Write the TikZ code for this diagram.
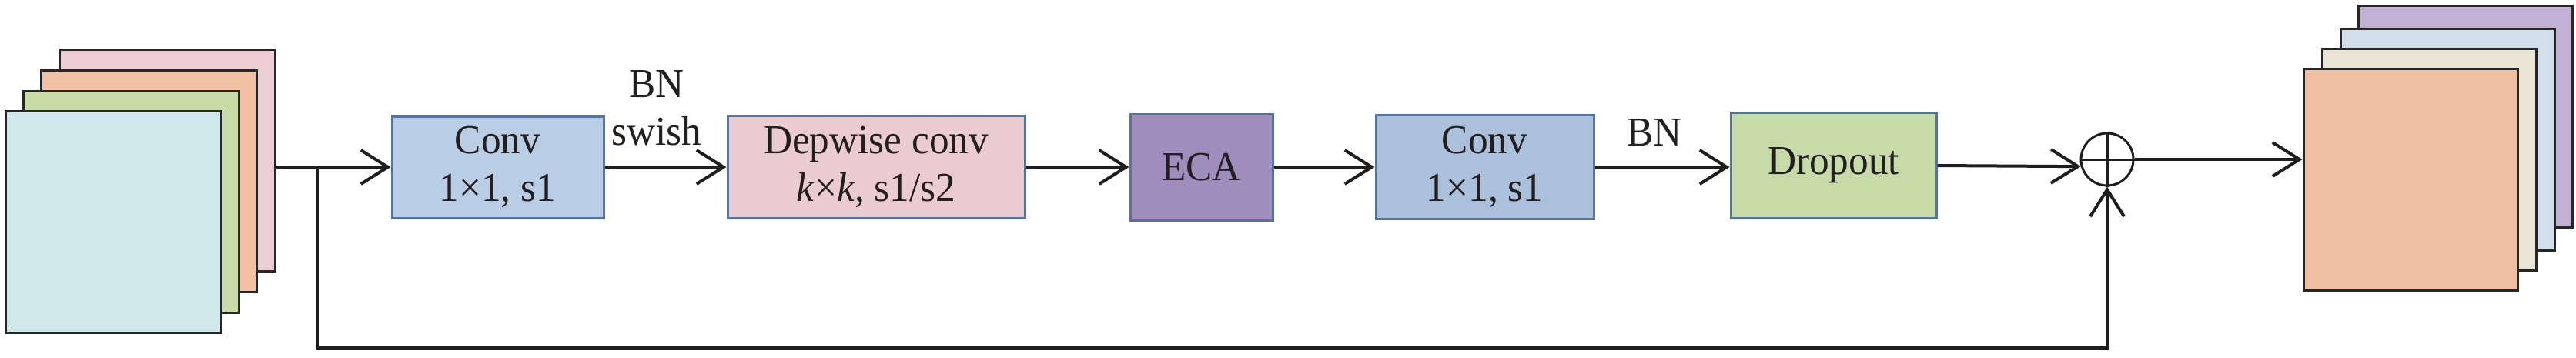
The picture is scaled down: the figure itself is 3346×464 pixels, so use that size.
\documentclass[tikz,border=0pt]{standalone}
\usepackage{fontspec}
\setmainfont{Liberation Serif}[FakeStretch=0.96]
\usetikzlibrary{arrows.meta}
\definecolor{txt}{HTML}{231F20}
\definecolor{lin}{HTML}{1E1E1E}
\definecolor{bord}{HTML}{5473A0}
\definecolor{lay}{HTML}{262626}
\definecolor{cLB}{HTML}{D0E8EC}
\definecolor{cLG}{HTML}{C8DCA8}
\definecolor{cLO}{HTML}{F2C0A2}
\definecolor{cLP}{HTML}{ECCDD3}
\definecolor{cRO}{HTML}{F1BFA2}
\definecolor{cRC}{HTML}{E9E5D5}
\definecolor{cRB}{HTML}{D3DFEB}
\definecolor{cRP}{HTML}{C2B1D4}
\definecolor{cConvA}{HTML}{B9CDE5}
\definecolor{cDw}{HTML}{EACBD1}
\definecolor{cEca}{HTML}{A18DBD}
\definecolor{cConvB}{HTML}{ABC0DA}
\definecolor{cDrop}{HTML}{C7DBA8}
\begin{document}
\begin{tikzpicture}[x=0.1mm,y=-0.1mm,
  lbl/.style={font=\fontsize{15.2pt}{17.5pt}\selectfont, text=txt, inner sep=0pt},
  blk/.style={draw=bord, line width=0.3mm, align=center, font=\fontsize{15.2pt}{17.5pt}\selectfont, text=txt, inner sep=0pt},
  layer/.style={draw=lay, line width=0.3mm, minimum width=28mm, minimum height=28.8mm, inner sep=0pt},
  arr/.style={line width=0.4mm, draw=lin, -{Straight Barb[length=3.5mm,width=4.4mm]}},
  ln/.style={line width=0.4mm, draw=lin},
  thinln/.style={line width=0.3mm, draw=lin},
]
\useasboundingbox (0,0) rectangle (3346,464);

% input stack
\node[layer, fill=cLP] (inP) at (217,208) {};
\node[layer, fill=cLO] (inO) at (193,235) {};
\node[layer, fill=cLG] (inG) at (170,262) {};
\node[layer, fill=cLB] (inB) at (147,288) {};

% output stack
\node[layer, fill=cRP, minimum width=27.8mm] (outP) at (3202,151) {};
\node[layer, fill=cRB, minimum width=27.8mm] (outB) at (3179,181) {};
\node[layer, fill=cRC, minimum width=27.8mm] (outC) at (3155,207) {};
\node[layer, fill=cRO, minimum width=27.8mm] (outF) at (3131,233) {};

% blocks
\node[blk, fill=cConvA, minimum width=27.5mm, minimum height=13.2mm] (c1) at (646.5,217) {Conv\\1×1, s1};
\node[blk, fill=cDw, minimum width=38.6mm, minimum height=13.3mm] (dw) at (1138,217) {Depwise conv\\\textit{k}×\textit{k}, s1/s2};
\node[blk, fill=cEca, minimum width=18.5mm, minimum height=13.8mm] (eca) at (1560.5,217) {ECA};
\node[blk, fill=cConvB, minimum width=28.3mm, minimum height=13.5mm] (c2) at (1928.5,217) {Conv\\1×1, s1};
\node[blk, fill=cDrop, minimum width=26.7mm, minimum height=13.7mm] (drop) at (2381.5,215) {Dropout};

% labels
\node[lbl, anchor=base] (bnA) at (853,126) {BN};
\node[lbl, anchor=base] (sw) at (853,188) {swish};
\node[lbl, anchor=base] (bnB) at (2149,189) {BN};

% adder
\node[circle, draw=lin, line width=0.3mm, minimum size=6.8mm, inner sep=0pt] (plus) at (2737,207) {};
\draw[thinln] (plus.west) -- (plus.east);
\draw[thinln] (plus.north) -- (plus.south);

% connectors
\coordinate (br) at (413,217);
\coordinate (sk) at (2737,452);
\draw[ln] (inP.east |- br) -- (br);
\draw[arr] (br) -- (c1.west);
\draw[arr] (c1.east) -- (dw.west);
\draw[arr] (dw.east) -- (eca.west);
\draw[arr] (eca.east) -- (c2.west);
\draw[arr] (c2.east) -- (c2.east -| drop.west);
\draw[arr] (drop.east) -- (plus.195);
\draw[arr] (plus.east) -- (plus.east -| outF.west);
\draw[arr] (br) -- (br |- sk) -- (sk) -- (plus.south);
\end{tikzpicture}
\end{document}
